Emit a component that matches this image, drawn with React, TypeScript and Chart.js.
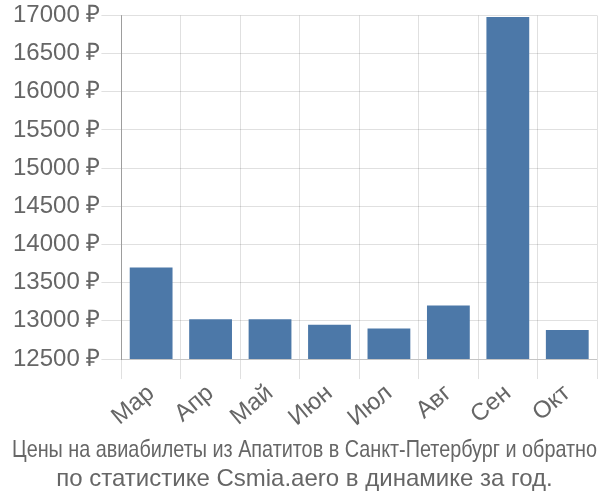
import React, { useEffect, useRef } from "react";
import { Chart, registerables } from "chart.js";

Chart.register(...registerables);

const categories = ["Мар", "Апр", "Май", "Июн", "Июл", "Авг", "Сен", "Окт"];
const prices = [13700, 13020, 13020, 12950, 12900, 13200, 16980, 12880];
const titleLines = [
  "Цены на авиабилеты из Апатитов в Санкт-Петербург и обратно",
  "по статистике Csmia.aero в динамике за год.",
];

export default function App() {
  const ref = useRef<HTMLCanvasElement | null>(null);
  useEffect(() => {
    document.body.style.margin = "0";
    if (!ref.current) return;
    const chart = new Chart(ref.current, {
      type: "bar",
      data: {
        labels: categories,
        datasets: [
          {
            data: prices,
            backgroundColor: "#4c78a8",
            borderWidth: 0,
          },
        ],
      },
      options: {
        animation: false,
        responsive: false,
        layout: { padding: { left: 12, right: 3, top: 5, bottom: 0 } },
        plugins: {
          legend: { display: false },
          tooltip: { enabled: false },
          title: {
            display: true,
            position: "bottom",
            text: titleLines,
            color: "#666",
            font: { family: "'Liberation Sans', Arial, sans-serif", size: 24, weight: "normal", lineHeight: 1.22 },
            padding: { top: 3, bottom: 6 },
          },
        },
        scales: {
          x: {
            grid: { color: "rgba(0,0,0,0.12)", tickLength: 20, offset: true },
            border: { color: "rgba(0,0,0,0.12)" },
            ticks: {
              color: "#666",
              font: { family: "'Liberation Sans', Arial, sans-serif", size: 24 },
              maxRotation: 40,
              minRotation: 40,
              padding: 0,
            },
          },
          y: {
            min: 12500,
            max: 17000,
            grid: { color: "rgba(0,0,0,0.12)", tickLength: 20 },
            border: { color: "rgba(0,0,0,0.3)" },
            ticks: {
              stepSize: 500,
              color: "#666",
              font: { family: "'Liberation Sans', Arial, sans-serif", size: 24 },
              padding: 1,
              callback: (v: any) => v + " ₽",
            },
          },
        },
      },
    });
    return () => chart.destroy();
  }, []);
  return (
    <div style={{ position: "absolute", left: 0, top: 0, width: 600, height: 500 }}>
      <canvas ref={ref} width={600} height={500} style={{ width: 600, height: 500 }} />
    </div>
  );
}
